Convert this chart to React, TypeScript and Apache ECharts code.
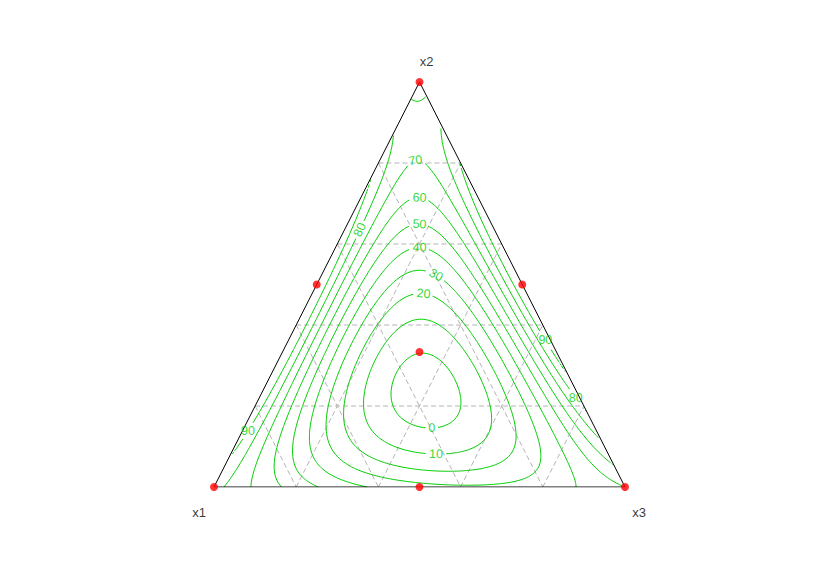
import React, { useEffect, useRef } from "react";
import * as echarts from "echarts";

// Simplex-centroid design (x1, x2, x3) and the observed responses
const designX1 = [1, 0, 0, 0.5, 0.5, 0, 1 / 3];
const designX2 = [0, 1, 0, 0.5, 0, 0.5, 1 / 3];
const designX3 = [0, 0, 1, 0, 0.5, 0.5, 1 / 3];
const response = [84, 64.4, 50, 104, 33.5, 103, 0.3];

// contour levels
const contourLevels = [0, 10, 20, 30, 40, 50, 60, 70, 80, 90];

// reference grid fractions
const gridFractions = [0.2, 0.4, 0.6, 0.8];

// corner labels
const cornerLabels = ["x1", "x2", "x3"];

// contour label anchors (level, approx x2, approx x3)
const labelLevels = [70, 60, 50, 40, 30, 20, 0, 10, 80, 90, 90, 80];
const labelX2 = [0.817, 0.728, 0.662, 0.605, 0.531, 0.489, 0.156, 0.089, 0.642, 0.141, 0.365, 0.225];
const labelX3 = [0.081, 0.1355, 0.169, 0.195, 0.278, 0.267, 0.45, 0.496, 0.023, 0.005, 0.63, 0.773];
const labelAlong = [true, true, true, true, true, true, true, true, true, false, false, false];

const GREEN = "#00cd00";
const FONT = "'Liberation Sans', Arial, sans-serif";
const PX_W = 411;
const PX_H = 405;

function scheffe() {
  const [y1, y2, y3, y12, y13, y23, y123] = response;
  return {
    b1: y1,
    b2: y2,
    b3: y3,
    b12: 4 * y12 - 2 * y1 - 2 * y2,
    b13: 4 * y13 - 2 * y1 - 2 * y3,
    b23: 4 * y23 - 2 * y2 - 2 * y3,
    b123: 27 * y123 - 12 * (y12 + y13 + y23) + 3 * (y1 + y2 + y3),
  };
}

const toXY = (x2: number, x3: number): [number, number] => [x3 + x2 / 2, x2];

function buildContours() {
  const c = scheffe();
  const f = (x1: number, x2: number, x3: number) =>
    c.b1 * x1 + c.b2 * x2 + c.b3 * x3 + c.b12 * x1 * x2 + c.b13 * x1 * x3 + c.b23 * x2 * x3 + c.b123 * x1 * x2 * x3;
  const NX = 200;
  const NY = 174;
  const vals = new Float64Array((NX + 1) * (NY + 1));
  for (let j = 0; j <= NY; j++) {
    for (let i = 0; i <= NX; i++) {
      const X = i / NX;
      const Y = j / NY;
      const x2 = Y;
      const x3 = X - Y / 2;
      const x1 = 1 - x2 - x3;
      vals[j * (NX + 1) + i] = x1 >= -1e-9 && x3 >= -1e-9 ? f(x1, x2, x3) : NaN;
    }
  }
  const V = (i: number, j: number) => vals[j * (NX + 1) + i];
  const result: { level: number; lines: [number, number][][] }[] = [];
  for (const L of contourLevels) {
    const pts = new Map<string, [number, number]>();
    const segs: [string, string][] = [];
    const hKey = (i: number, j: number) => {
      const k = "h" + i + "_" + j;
      if (!pts.has(k)) {
        const a = V(i, j), b = V(i + 1, j);
        const t = (L - a) / (b - a);
        pts.set(k, [(i + t) / NX, j / NY]);
      }
      return k;
    };
    const vKey = (i: number, j: number) => {
      const k = "v" + i + "_" + j;
      if (!pts.has(k)) {
        const a = V(i, j), b = V(i, j + 1);
        const t = (L - a) / (b - a);
        pts.set(k, [i / NX, (j + t) / NY]);
      }
      return k;
    };
    for (let j = 0; j < NY; j++) {
      for (let i = 0; i < NX; i++) {
        const a = V(i, j), b = V(i + 1, j), cc = V(i + 1, j + 1), d = V(i, j + 1);
        if (isNaN(a) || isNaN(b) || isNaN(cc) || isNaN(d)) continue;
        const idx = (a > L ? 1 : 0) | (b > L ? 2 : 0) | (cc > L ? 4 : 0) | (d > L ? 8 : 0);
        if (idx === 0 || idx === 15) continue;
        const e0 = () => hKey(i, j);
        const e1 = () => vKey(i + 1, j);
        const e2 = () => hKey(i, j + 1);
        const e3 = () => vKey(i, j);
        const center = (a + b + cc + d) / 4;
        switch (idx) {
          case 1: segs.push([e3(), e0()]); break;
          case 2: segs.push([e0(), e1()]); break;
          case 3: segs.push([e3(), e1()]); break;
          case 4: segs.push([e1(), e2()]); break;
          case 5:
            if (center > L) { segs.push([e0(), e1()]); segs.push([e2(), e3()]); }
            else { segs.push([e3(), e0()]); segs.push([e1(), e2()]); }
            break;
          case 6: segs.push([e0(), e2()]); break;
          case 7: segs.push([e3(), e2()]); break;
          case 8: segs.push([e2(), e3()]); break;
          case 9: segs.push([e0(), e2()]); break;
          case 10:
            if (center > L) { segs.push([e3(), e0()]); segs.push([e1(), e2()]); }
            else { segs.push([e0(), e1()]); segs.push([e2(), e3()]); }
            break;
          case 11: segs.push([e1(), e2()]); break;
          case 12: segs.push([e3(), e1()]); break;
          case 13: segs.push([e0(), e1()]); break;
          case 14: segs.push([e3(), e0()]); break;
        }
      }
    }
    const adj = new Map<string, number[]>();
    segs.forEach((s, n) => {
      for (const k of s) {
        if (!adj.has(k)) adj.set(k, []);
        adj.get(k)!.push(n);
      }
    });
    const used = new Array(segs.length).fill(false);
    const walk = (start: string, chain: string[]) => {
      let cur = start;
      for (;;) {
        const list = adj.get(cur) || [];
        const nx = list.find((n) => !used[n]);
        if (nx === undefined) break;
        used[nx] = true;
        const nextKey = segs[nx][0] === cur ? segs[nx][1] : segs[nx][0];
        chain.push(nextKey);
        cur = nextKey;
      }
    };
    const lines: [number, number][][] = [];
    for (let n = 0; n < segs.length; n++) {
      if (used[n]) continue;
      used[n] = true;
      const fwd: string[] = [segs[n][0], segs[n][1]];
      walk(segs[n][1], fwd);
      const back: string[] = [];
      walk(segs[n][0], back);
      const chain = back.reverse().concat(fwd);
      lines.push(chain.map((k) => pts.get(k)!));
    }
    result.push({ level: L, lines });
  }
  return result;
}

function buildOption() {
  const contours = buildContours();
  const series: any[] = [];

  // dashed reference grid
  const gridSegs: [number, number][][] = [];
  for (const c of gridFractions) {
    gridSegs.push([toXY(c, 0), toXY(c, 1 - c)]); // x2 = c
    gridSegs.push([toXY(1 - c, 0), toXY(0, 1 - c)]); // x1 = c
    gridSegs.push([toXY(0, c), toXY(1 - c, c)]); // x3 = c
  }
  gridSegs.forEach((seg) =>
    series.push({
      type: "line",
      data: seg,
      showSymbol: false,
      silent: true,
      z: 1,
      lineStyle: { color: "#b4b4b4", width: 1, type: [5, 3] },
    })
  );

  // labels: snap to contour
  const labels = labelLevels.map((lv, n) => {
    const target = toXY(labelX2[n], labelX3[n]);
    const cont = contours.find((c) => c.level === lv)!;
    let best = { d: Infinity, p: target, ang: 0 };
    cont.lines.forEach((line) => {
      line.forEach((p, m) => {
        const dx = (p[0] - target[0]) * PX_W;
        const dy = (p[1] - target[1]) * PX_H;
        const d = dx * dx + dy * dy;
        if (d < best.d) {
          const a = line[Math.max(0, m - 3)];
          const b = line[Math.min(line.length - 1, m + 3)];
          let ang = (Math.atan2((b[1] - a[1]) * PX_H, (b[0] - a[0]) * PX_W) * 180) / Math.PI;
          if (ang > 90) ang -= 180;
          if (ang < -90) ang += 180;
          best = { d, p, ang };
        }
      });
    });
    return { level: lv, pos: best.p, rotate: labelAlong[n] ? best.ang : 0 };
  });

  contours.forEach((c) => {
    const mine = labels.filter((l) => l.level === c.level);
    const radius = c.level === 0 ? 5 : 9;
    c.lines.forEach((line) => {
      let cur: [number, number][] = [];
      const pieces: [number, number][][] = [];
      line.forEach((p) => {
        const hit = mine.some((l) => {
          const dx = (p[0] - l.pos[0]) * PX_W;
          const dy = (p[1] - l.pos[1]) * PX_H;
          return dx * dx + dy * dy < radius * radius;
        });
        if (hit) {
          if (cur.length > 1) pieces.push(cur);
          cur = [];
        } else cur.push(p);
      });
      if (cur.length > 1) pieces.push(cur);
      pieces.forEach((pc) =>
        series.push({
          type: "line",
          data: pc,
          showSymbol: false,
          silent: true,
          z: 2,
          lineStyle: { color: GREEN, width: 1 },
        })
      );
    });
  });

  // triangle outline
  series.push({
    type: "line",
    data: [toXY(0, 0), toXY(0, 1), toXY(1, 0), toXY(0, 0)],
    showSymbol: false,
    silent: true,
    z: 3,
    lineStyle: { color: "#000", width: 1 },
  });

  // contour labels
  series.push({
    type: "scatter",
    symbolSize: 0,
    silent: true,
    z: 4,
    data: labels.map((l) => ({
      value: l.pos,
      label: {
        show: true,
        position: "inside",
        formatter: String(l.level),
        rotate: l.rotate,
        color: GREEN,
        fontSize: 12.5,
        fontFamily: FONT,
      },
    })),
  });

  // design points
  series.push({
    type: "scatter",
    symbol: "circle",
    symbolSize: 8,
    silent: true,
    z: 5,
    itemStyle: { color: "#ff0000" },
    data: designX1.map((_, n) => toXY(designX2[n], designX3[n])),
  });

  // corner labels
  const cornerOffsets = [
    [-15, 25],
    [7, -21],
    [14, 25],
  ];
  const cornerPts = [toXY(0, 0), toXY(1, 0), toXY(0, 1)];
  series.push({
    type: "scatter",
    symbolSize: 0,
    silent: true,
    z: 5,
    data: cornerLabels.map((t, n) => ({
      value: cornerPts[n],
      label: {
        show: true,
        position: "inside",
        formatter: t,
        offset: cornerOffsets[n],
        color: "#000",
        fontSize: 13,
        fontFamily: FONT,
      },
    })),
  });

  return {
    animation: false,
    backgroundColor: "#ffffff",
    grid: { left: 214, top: 82, width: PX_W, height: PX_H },
    xAxis: { type: "value", min: 0, max: 1, show: false },
    yAxis: { type: "value", min: 0, max: 1, show: false },
    series,
  };
}

export default function App() {
  const ref = useRef<HTMLDivElement>(null);
  useEffect(() => {
    if (!ref.current) return;
    const chart = echarts.init(ref.current, undefined, { renderer: "svg" });
    chart.setOption(buildOption() as any);
    return () => chart.dispose();
  }, []);
  return (
    <div
      ref={ref}
      style={{ position: "fixed", left: 0, top: 0, width: 840, height: 574, background: "#fff" }}
    />
  );
}
